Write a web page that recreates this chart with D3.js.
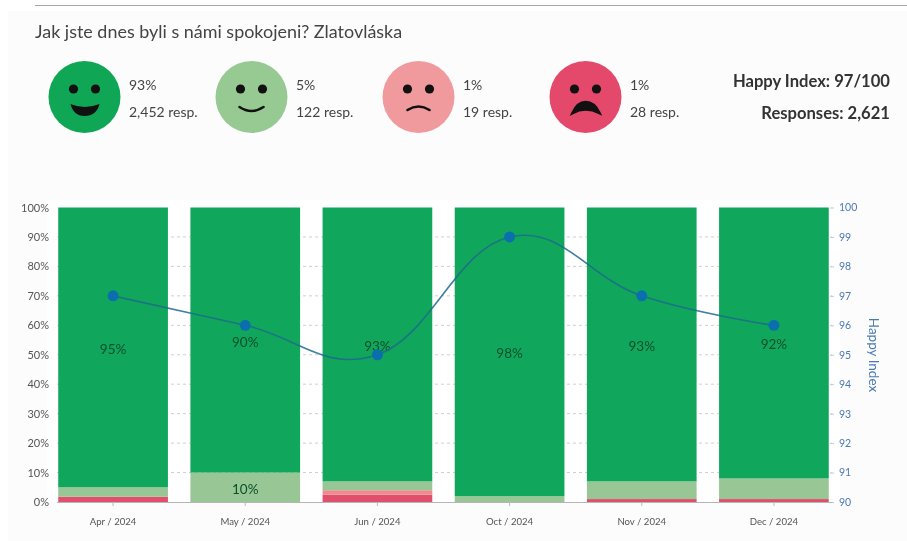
<!DOCTYPE html>
<html><head><meta charset="utf-8">
<script src="https://cdn.jsdelivr.net/npm/d3@7"></script>
<style>
html,body{margin:0;padding:0;background:#fff;}
svg{display:block;filter:blur(0.5px);}
text{font-family:Lato,"Noto Sans",sans-serif;}
</style></head><body>
<svg id="c" width="907" height="541"></svg>
<script>
const months=["Apr / 2024","May / 2024","Jun / 2024","Oct / 2024","Nov / 2024","Dec / 2024"];
const veryUnhappy=[1.8,0,2.5,0,1,1];
const unhappy=[0,0,1.5,0,0,0];
const happy=[3.2,10,3,2,6,7];
const veryHappy=[95,90,93,98,93,92];
const happyIndex=[97,96,95,99,97,96];
const pctTicks=[0,10,20,30,40,50,60,70,80,90,100];
const indexTicks=[90,91,92,93,94,95,96,97,98,99,100];
const seriesKeys=["veryUnhappy","unhappy","happy","veryHappy"];
const seriesColors=["#e0506c","#f08a8c","#98c795","#10a75c"];
const summaryPct=["93%","5%","1%","1%"];
const summaryResp=["2,452 resp.","122 resp.","19 resp.","28 resp."];
const faceColors=["#0fa655","#97ca93","#f09a9e","#e4486a"];
const title="Jak jste dnes byli s námi spokojeni? Zlatovláska";
const tickFont="Lato,'Noto Sans',sans-serif";

const svg=d3.select("#c");
svg.append("rect").attr("x",8).attr("y",11).attr("width",899).attr("height",530).attr("fill","#fcfcfc");
svg.append("line").attr("x1",35).attr("x2",907).attr("y1",5.5).attr("y2",5.5).attr("stroke","#a8a8a8").attr("stroke-width",1);
svg.append("text").attr("x",35).attr("y",38).attr("font-size",17.95).attr("fill","#444").text(title);

// summary faces
const fx=d3.scalePoint().domain(d3.range(4)).range([84.5,585.5]);
const face=svg.selectAll("g.face").data(d3.range(4)).join("g").attr("class","face").attr("transform",i=>`translate(${fx(i)},97)`);
face.append("circle").attr("r",36).attr("fill",i=>faceColors[i]);
face.selectAll("circle.eye").data(i=>[-11,11]).join("circle").attr("class","eye").attr("cx",d=>d).attr("cy",-8).attr("r",4.6).attr("fill","#111");
const mouths=[
 {d:"M-14,7 Q0,13 15,7 Q12,19 0,19 Q-11,19 -14,7Z",fill:"#111",stroke:"none"},
 {d:"M-12,10 Q0,18 12,10",fill:"none",stroke:"#111"},
 {d:"M-11,13 Q0,6 11,13",fill:"none",stroke:"#111"},
 {d:"M-13,16 Q-8,5 0,5 Q9,5 14,16 Q0,9 -13,16Z",fill:"#111",stroke:"#111"}];
face.append("path").attr("d",i=>mouths[i].d).attr("fill",i=>mouths[i].fill).attr("stroke",i=>mouths[i].stroke).attr("stroke-width",2.6).attr("stroke-linecap","round");
face.append("text").attr("x",44.5).attr("y",-7.5).attr("font-size",14).attr("fill","#444").text(i=>summaryPct[i]);
face.append("text").attr("x",44.5).attr("y",19.5).attr("font-size",14).attr("fill","#444").text(i=>summaryResp[i]);

svg.append("text").attr("x",890).attr("y",87).attr("text-anchor","end").attr("font-size",16.6).attr("font-weight",700).attr("fill","#333").text("Happy Index: 97/100");
svg.append("text").attr("x",890).attr("y",119).attr("text-anchor","end").attr("font-size",16.6).attr("font-weight",700).attr("fill","#333").text("Responses: 2,621");

// chart
const x=d3.scaleBand().domain(months).range([47,840]).paddingInner(0.17).paddingOuter(0.085);
const y=d3.scaleLinear().domain([0,100]).range([502,207.5]);
const yR=d3.scaleLinear().domain([90,100]).range([502,207.5]);

svg.append("rect").attr("x",47).attr("y",200).attr("width",793).attr("height",302).attr("fill","#fff");

const rows=months.map((m,i)=>({month:m,veryUnhappy:veryUnhappy[i],unhappy:unhappy[i],happy:happy[i],veryHappy:veryHappy[i]}));
const stacked=d3.stack().keys(seriesKeys)(rows);

svg.append("g").selectAll("line").data(pctTicks.slice(1,-1)).join("line")
 .attr("x1",57).attr("x2",832).attr("y1",d=>y(d)).attr("y2",d=>y(d))
 .attr("stroke","#cfcfcf").attr("stroke-dasharray","3,3");

svg.append("g").selectAll("g").data(stacked).join("g").attr("fill",(d,i)=>seriesColors[i])
 .selectAll("rect").data(d=>d).join("rect")
 .attr("x",d=>x(d.data.month)).attr("width",x.bandwidth())
 .attr("y",d=>y(d[1])).attr("height",d=>y(d[0])-y(d[1]));

// value labels
svg.append("g").selectAll("g").data(stacked).join("g")
 .selectAll("text").data(d=>d.filter(v=>v[1]-v[0]>=10)).join("text")
 .attr("x",d=>x(d.data.month)+x.bandwidth()/2).attr("y",d=>y((d[0]+d[1])/2)+6.5)
 .attr("text-anchor","middle").attr("font-size",13.5).attr("fill","#0b4f2b").text(d=>d3.format(".0f")(d[1]-d[0])+"%");

// axes
const axL=d3.axisLeft(y).tickValues(pctTicks).tickFormat(d=>d+"%").tickSize(0).tickPadding(8);
const gL=svg.append("g").attr("transform","translate(57,0)").call(axL);
gL.select(".domain").remove();
gL.selectAll("text").attr("font-size",11).attr("fill","#555").style("font-family",tickFont);

const axR=d3.axisRight(yR).tickValues(indexTicks).tickSize(4).tickPadding(5);
const gR=svg.append("g").attr("transform","translate(830,0)").call(axR);
gR.select(".domain").remove();
gR.selectAll("line").attr("stroke","#b9c9dd");
gR.selectAll("text").attr("font-size",10.5).attr("fill","#4a7ab5").style("font-family",tickFont);

const axB=d3.axisBottom(x).tickSize(4).tickPadding(12);
const gB=svg.append("g").attr("transform","translate(0,502)").call(axB);
gB.select(".domain").attr("stroke","#b5b5b5").attr("d","M57,0.5H832");
gB.selectAll("line").attr("stroke","#bbb");
gB.selectAll("text").attr("font-size",9.6).attr("fill","#555").style("font-family",tickFont);

svg.append("text").attr("transform","translate(869,355) rotate(90)").attr("text-anchor","middle")
 .attr("font-size",13.5).attr("fill","#4a7ab5").text("Happy Index");

// line
const line=d3.line().x((d,i)=>x(months[i])+x.bandwidth()/2).y(d=>yR(d)).curve(d3.curveCardinal.tension(-0.2));
svg.append("path").datum(happyIndex).attr("d",line).attr("fill","none").attr("stroke","#1f6a8c").attr("stroke-width",1.6).attr("opacity",.85);
svg.append("g").selectAll("circle").data(happyIndex).join("circle")
 .attr("cx",(d,i)=>x(months[i])+x.bandwidth()/2).attr("cy",d=>yR(d)).attr("r",5.5).attr("fill","#0b6fae");
</script>
</body></html>
